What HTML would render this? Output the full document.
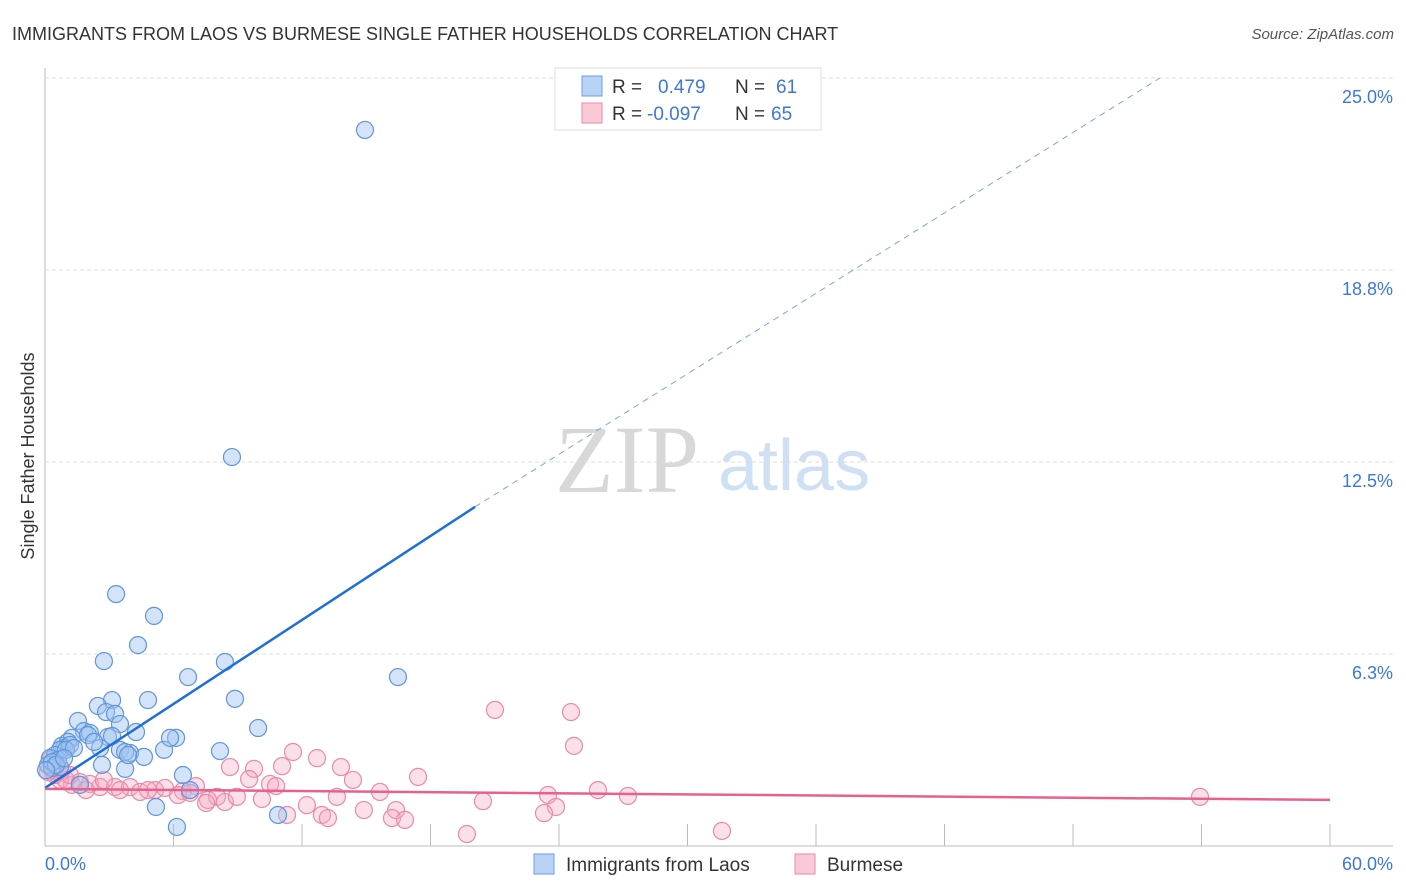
<!DOCTYPE html>
<html><head><meta charset="utf-8"><style>
body{margin:0;background:#fff;font-family:"Liberation Sans",sans-serif}
svg{display:block}
</style></head><body>
<svg id="c" width="1406" height="892" xmlns="http://www.w3.org/2000/svg">
<text x="12" y="40" font-size="18" fill="#333">IMMIGRANTS FROM LAOS VS BURMESE SINGLE FATHER HOUSEHOLDS CORRELATION CHART</text>
<text x="1394" y="39" font-size="15" fill="#555" font-style="italic" text-anchor="end">Source: ZipAtlas.com</text>
<text x="555" y="492" font-size="96" font-family="Liberation Serif,serif" fill="#d8d8d8">ZIP</text>
<text x="718" y="490" font-size="72" fill="#cfe0f5">atlas</text>
<text transform="translate(34,456) rotate(-90)" font-size="18" fill="#333" text-anchor="middle">Single Father Households</text>
<g id="grid"></g><g id="marks"></g>
<g>
<rect x="555" y="68" width="266" height="62" fill="#fff" stroke="#ddd"/>
<rect x="582" y="76" width="20" height="20" fill="#b8d3f5" stroke="#6a9fe0"/>
<rect x="582" y="103" width="20" height="20" fill="#fac9d7" stroke="#e88aa8"/>
<text x="612" y="93" font-size="19" fill="#333">R = </text><text x="658" y="93" font-size="19" fill="#3b78d8">0.479</text>
<text x="735" y="93" font-size="19" fill="#333">N = </text><text x="776" y="93" font-size="19" fill="#3b78d8">61</text>
<text x="612" y="120" font-size="19" fill="#333">R = </text><text x="647" y="120" font-size="19" fill="#3b78d8">-0.097</text>
<text x="735" y="120" font-size="19" fill="#333">N = </text><text x="771" y="120" font-size="19" fill="#3b78d8">65</text>
</g>
<g>
<rect x="534" y="854" width="20" height="20" fill="#b8d3f5" stroke="#6a9fe0"/>
<text x="566" y="871" font-size="19" fill="#333">Immigrants from Laos</text>
<rect x="795" y="854" width="20" height="20" fill="#fac9d7" stroke="#e88aa8"/>
<text x="827" y="871" font-size="19" fill="#333">Burmese</text>
</g>
</svg>
<script>
const yTicks=[6.25,12.5,18.75,25];
const yTickLabels=["6.3%","12.5%","18.8%","25.0%"];
const xTicks=[0,6,12,18,24,30,36,42,48,54,60];
const xTickLabels=["0.0%","60.0%"];
const laosX=[14.94,8.73,3.32,5.09,4.34,2.75,8.40,6.68,16.48,3.13,4.81,8.87,2.47,2.85,3.27,1.54,3.50,1.82,2.10,9.95,4.25,2.94,1.26,6.12,1.07,0.79,0.89,3.50,3.97,2.57,3.74,5.56,8.17,0.70,0.47,0.23,0.14,4.62,2.66,3.74,6.44,0.70,1.63,5.18,6.16,10.88,0.33,0.61,1.17,2.01,2.29,3.88,5.84,0.33,0.98,0.51,0.05,1.35,6.77,3.13,0.89];
const laosY=[23.31,12.66,8.20,7.49,6.54,6.02,5.99,5.50,5.50,4.75,4.75,4.79,4.56,4.36,4.30,4.07,3.97,3.74,3.68,3.84,3.71,3.55,3.52,3.52,3.39,3.26,3.19,3.13,3.03,3.19,3.06,3.13,3.09,3.13,2.96,2.86,2.64,2.90,2.64,2.51,2.31,2.57,1.99,1.27,0.62,1.01,2.54,2.80,3.29,3.61,3.39,2.96,3.52,2.73,3.13,2.64,2.47,3.19,1.82,3.58,2.86];
const burX=[21.01,24.56,24.70,11.58,12.70,8.64,13.82,11.07,9.76,17.42,14.38,9.53,10.51,10.79,7.05,25.82,15.64,23.49,27.22,53.93,20.45,13.63,8.03,10.13,5.14,5.60,3.97,2.57,1.26,0.70,0.47,0.23,0.33,0.61,0.98,1.63,2.10,3.27,3.50,4.44,4.81,6.44,7.61,8.40,8.96,7.52,12.23,12.93,11.30,14.89,16.39,16.20,16.81,13.21,23.86,23.30,19.70,31.61,6.21,6.77,2.75,0.79,0.14,1.17,1.91];
const burY=[4.43,4.36,3.26,3.06,2.86,2.57,2.57,2.60,2.51,2.25,2.15,2.18,2.02,1.95,1.95,1.82,1.76,1.66,1.63,1.60,1.46,1.60,1.60,1.53,1.82,1.89,1.92,1.92,1.99,2.15,2.31,2.80,2.47,2.41,2.15,2.08,2.02,1.92,1.82,1.76,1.82,1.79,1.50,1.43,1.60,1.40,1.33,1.01,1.01,1.17,1.17,0.91,0.85,0.91,1.27,1.07,0.39,0.49,1.66,1.73,2.15,2.47,2.41,2.31,1.82];
const laosTrend=[[0,1.89],[20.08,11.04],[52.06,25]];
const burTrend=[[0,1.86],[60,1.50]];
const X0=45,X1=1330,Y0=846,Y25=78;
const sx=v=>X0+v*(X1-X0)/60, sy=v=>Y0-v*(Y0-Y25)/25;
const NS="http://www.w3.org/2000/svg";
function mk(parent,tag,attrs){const e=document.createElementNS(NS,tag);for(const k in attrs)e.setAttribute(k,attrs[k]);parent.appendChild(e);return e;}
const grid=document.getElementById('grid'),marks=document.getElementById('marks');
let ax=mk(grid,'line',{x1:X0,y1:68,x2:X0,y2:Y0,stroke:'#bbb'});


let bx=mk(grid,'line',{x1:X0,y1:Y0,x2:1393,y2:Y0,stroke:'#bbb'});


yTicks.forEach((t,i)=>{
 const g=mk(grid,'line',{x1:X0,y1:sy(t),x2:1393,y2:sy(t),stroke:'#ddd','stroke-dasharray':'4,3'});
 
 
 const l=mk(grid,'text',{x:1393,y:sy(t)+25,'font-size':18,fill:'#3b78d8','text-anchor':'end'});
 l.textContent=yTickLabels[i];
 
 
});
xTicks.forEach(t=>{
 const k=mk(grid,'line',{x1:sx(t),y1:Y0-22,x2:sx(t),y2:Y0,stroke:'#bbb'});
 
 
});
const xl0=mk(grid,'text',{x:45,y:870,'font-size':18,fill:'#3b78d8'});xl0.textContent=xTickLabels[0];


const xl1=mk(grid,'text',{x:1393,y:870,'font-size':18,fill:'#3b78d8','text-anchor':'end'});xl1.textContent=xTickLabels[1];


burX.forEach((v,i)=>{
 const c=mk(marks,'circle',{cx:sx(v),cy:sy(burY[i]),r:8.5,fill:'rgba(245,165,192,0.35)',stroke:'#e88aa8','stroke-width':1.2});
 
 
});
laosX.forEach((v,i)=>{
 const c=mk(marks,'circle',{cx:sx(v),cy:sy(laosY[i]),r:8.5,fill:'rgba(160,196,240,0.45)',stroke:'#5f95dc','stroke-width':1.2});
 
 
});
const t1=mk(marks,'line',{x1:sx(laosTrend[0][0]),y1:sy(laosTrend[0][1]),x2:sx(laosTrend[1][0]),y2:sy(laosTrend[1][1]),stroke:'#1f6fd8','stroke-width':2.5});


const t2=mk(marks,'line',{x1:sx(laosTrend[1][0]),y1:sy(laosTrend[1][1]),x2:sx(laosTrend[2][0]),y2:sy(laosTrend[2][1]),stroke:'#7aa6e0','stroke-width':1,'stroke-dasharray':'6,5'});


const t3=mk(marks,'line',{x1:sx(burTrend[0][0]),y1:sy(burTrend[0][1]),x2:sx(burTrend[1][0]),y2:sy(burTrend[1][1]),stroke:'#e8608e','stroke-width':2.5});


</script>
</body></html>
